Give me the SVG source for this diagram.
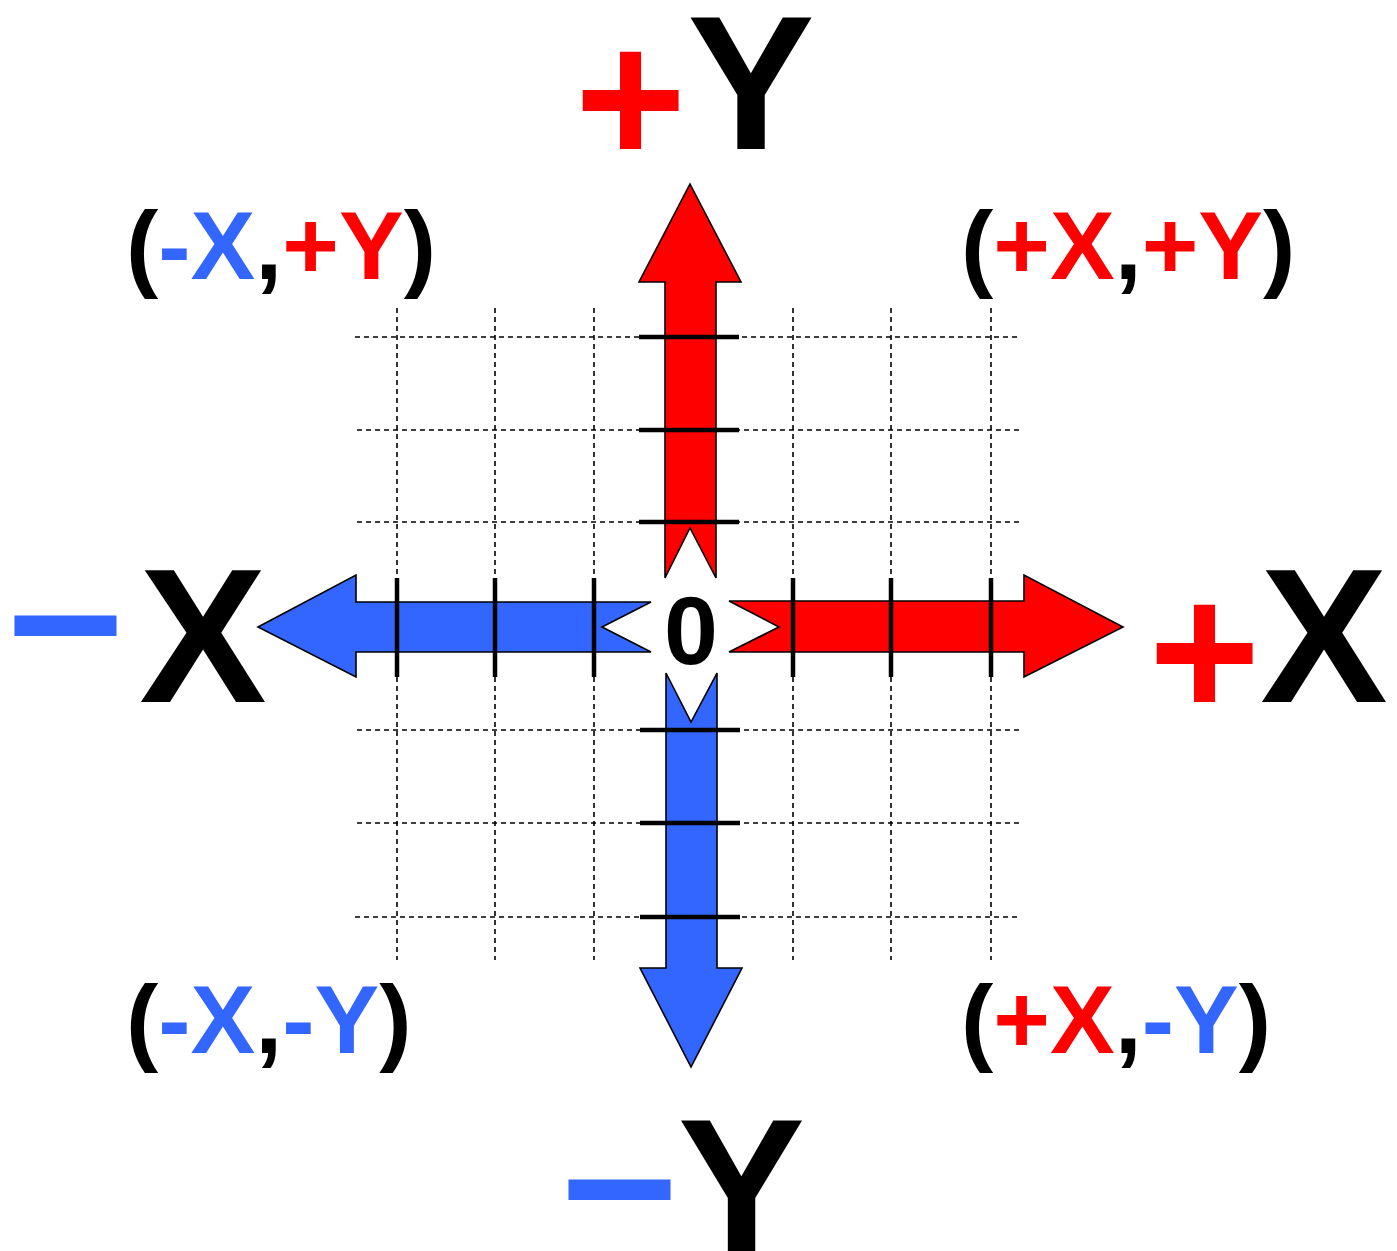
<svg xmlns="http://www.w3.org/2000/svg" width="1397" height="1251" viewBox="0 0 1397 1251">
<style>
.grid{stroke:#000;stroke-width:1.6;stroke-dasharray:5 4;fill:none}
.tick{stroke:#000;stroke-width:4.5;fill:none}
.red{fill:#FF0000}
.blue{fill:#3366FF}
.arrow{stroke:#000;stroke-width:1.6;stroke-linejoin:miter}
.big{font-family:"Liberation Sans",Arial,sans-serif;font-weight:bold;font-size:191px}
.dash{font-family:"Liberation Sans",Arial,sans-serif;font-weight:bold;font-size:206px}
.quad{font-family:"Liberation Sans",Arial,sans-serif;font-weight:bold;font-size:97px}
.k{fill:#000}
</style>
<rect width="1397" height="1251" fill="#fff"/>
<g id="grid">
<line class="grid" x1="355" y1="337" x2="1020" y2="337"/>
<line class="grid" x1="357" y1="430" x2="1020" y2="430"/>
<line class="grid" x1="357" y1="522" x2="1020" y2="522"/>
<line class="grid" x1="357" y1="730" x2="1020" y2="730"/>
<line class="grid" x1="357" y1="823" x2="1020" y2="823"/>
<line class="grid" x1="355" y1="917" x2="1020" y2="917"/>
<line class="grid" x1="397" y1="308" x2="397" y2="960"/>
<line class="grid" x1="495" y1="308" x2="495" y2="960"/>
<line class="grid" x1="594" y1="308" x2="594" y2="960"/>
<line class="grid" x1="793" y1="308" x2="793" y2="960"/>
<line class="grid" x1="891" y1="308" x2="891" y2="960"/>
<line class="grid" x1="991" y1="308" x2="991" y2="960"/>
</g>
<g id="connectors">
<polygon id="arrow-up" class="arrow red" points="690,184 741,282 716,282 716,578 690,528 665,578 665,282 639,282"/>
<polygon id="arrow-down" class="arrow blue" points="666,673 691,722 717,673 717,968 742,968 691,1067 640,968 666,968"/>
<polygon id="arrow-left" class="arrow blue" points="258,627 356,575 356,602 651,602 602,627 651,652 356,652 356,677"/>
<polygon id="arrow-right" class="arrow red" points="729,601 1024,601 1024,575 1123,627 1024,677 1024,652 729,652 779,627"/>
</g>
<g id="ticks">
<line class="tick" x1="639" y1="337" x2="739" y2="337"/>
<line class="tick" x1="639" y1="430" x2="739" y2="430"/>
<line class="tick" x1="639" y1="522" x2="739" y2="522"/>
<line class="tick" x1="640" y1="730" x2="740" y2="730"/>
<line class="tick" x1="640" y1="823" x2="740" y2="823"/>
<line class="tick" x1="640" y1="917" x2="740" y2="917"/>
<line class="tick" x1="397" y1="578" x2="397" y2="677"/>
<line class="tick" x1="495" y1="578" x2="495" y2="677"/>
<line class="tick" x1="594" y1="578" x2="594" y2="677"/>
<line class="tick" x1="793" y1="578" x2="793" y2="677"/>
<line class="tick" x1="891" y1="578" x2="891" y2="677"/>
<line class="tick" x1="991" y1="578" x2="991" y2="677"/>
</g>
<g id="origin">
<text x="691" y="664" text-anchor="middle" class="k" style="font-family:'Liberation Sans',Arial,sans-serif;font-weight:bold;font-size:97px">0</text>
</g>
<g id="label-plus-y">
<text x="630.5" y="164" text-anchor="middle" class="big red">+</text>
<text x="751" y="149" text-anchor="middle" class="big k">Y</text>
</g>
<g id="label-minus-y">
<text x="619.5" y="1244.5" text-anchor="middle" class="dash blue">–</text>
<text x="741.5" y="1252" text-anchor="middle" class="big k">Y</text>
</g>
<g id="label-minus-x">
<text x="65.5" y="680.5" text-anchor="middle" class="dash blue">–</text>
<text x="203" y="702" text-anchor="middle" class="big k">X</text>
</g>
<g id="label-plus-x">
<text x="1204.5" y="717" text-anchor="middle" class="big red">+</text>
<text x="1324" y="702" text-anchor="middle" class="big k">X</text>
</g>
<g id="label-q2">
<text x="126" y="279" class="quad k">(<tspan class="blue">-X</tspan>,<tspan class="red">+Y</tspan>)</text>
</g>
<g id="label-q1">
<text x="961" y="279" class="quad k">(<tspan class="red">+X</tspan>,<tspan class="red">+Y</tspan>)</text>
</g>
<g id="label-q3">
<text x="126" y="1053" class="quad k">(<tspan class="blue">-X</tspan>,<tspan class="blue">-Y</tspan>)</text>
</g>
<g id="label-q4">
<text x="961" y="1053" class="quad k">(<tspan class="red">+X</tspan>,<tspan class="blue">-Y</tspan>)</text>
</g>
</svg>
